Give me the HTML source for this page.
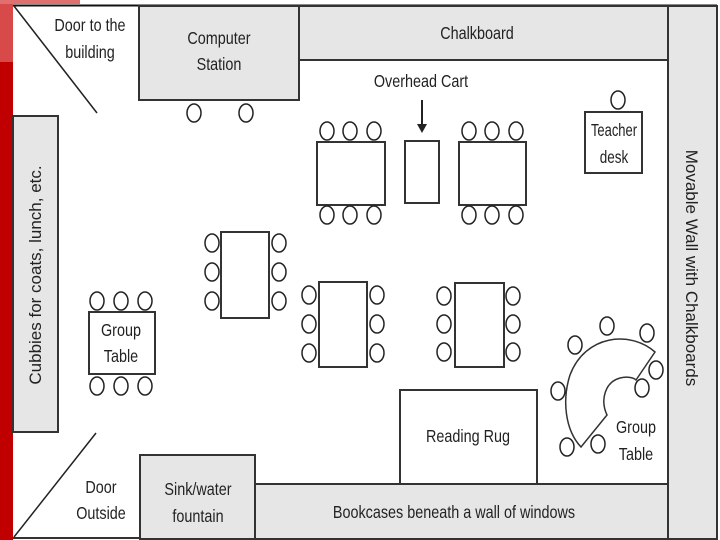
<!DOCTYPE html>
<html><head><meta charset="utf-8"><style>
html,body{margin:0;padding:0;background:#fff;}
svg{display:block;}
text{font-family:"Liberation Sans Narrow","Liberation Sans",sans-serif;fill:#222;}
</style></head><body>
<svg width="720" height="540" viewBox="0 0 720 540" xmlns="http://www.w3.org/2000/svg">
<rect x="0" y="0" width="720" height="540" fill="#fff"/>
<rect x="0" y="0" width="13" height="540" fill="#c00000"/>
<rect x="0" y="0" width="13" height="62" fill="#d84a4a"/>
<rect x="0" y="0" width="80" height="4" fill="#e07070"/>
<line x1="13" y1="5.5" x2="717" y2="5.5" stroke="#111" stroke-width="2"/>
<line x1="13" y1="538" x2="668" y2="538" stroke="#333" stroke-width="2"/>
<g stroke="#333" stroke-width="2" fill="#e6e6e6">
<rect x="139" y="6" width="160" height="94"/>
<rect x="299" y="6" width="369" height="54"/>
<rect x="668" y="6" width="49" height="533"/>
<rect x="13" y="116" width="45" height="316"/>
<rect x="140" y="455" width="115" height="84"/>
<rect x="255" y="484" width="413" height="55"/>
</g>
<g stroke="#222" stroke-width="1.5">
<line x1="14" y1="6" x2="97" y2="113"/>
<line x1="14" y1="537" x2="96" y2="433"/>
</g>
<g stroke="#333" stroke-width="2" fill="#fff">
<rect x="317" y="142" width="68" height="63"/>
<rect x="405" y="141" width="34" height="62"/>
<rect x="459" y="142" width="67" height="63"/>
<rect x="221" y="232" width="48" height="86"/>
<rect x="319" y="282" width="48" height="85"/>
<rect x="455" y="283" width="49" height="84"/>
<rect x="89" y="312" width="66" height="62"/>
<rect x="585" y="112" width="57" height="61"/>
<rect x="400" y="390" width="137" height="94"/>
<path d="M655,352 C630,330 585,335 570,375 C562,400 565,430 581,447 L607,415 C600,400 605,382 620,378 C628,376 634,378 636,380 Z" stroke-width="1.5"/>
</g>
<g stroke="#222" stroke-width="1.5" fill="#fff">
<ellipse cx="194" cy="113" rx="7" ry="9"/><ellipse cx="246" cy="113" rx="7" ry="9"/>
<ellipse cx="327" cy="131" rx="7" ry="9"/><ellipse cx="350" cy="131" rx="7" ry="9"/><ellipse cx="374" cy="131" rx="7" ry="9"/>
<ellipse cx="327" cy="215" rx="7" ry="9"/><ellipse cx="350" cy="215" rx="7" ry="9"/><ellipse cx="374" cy="215" rx="7" ry="9"/>
<ellipse cx="469" cy="131" rx="7" ry="9"/><ellipse cx="492" cy="131" rx="7" ry="9"/><ellipse cx="516" cy="131" rx="7" ry="9"/>
<ellipse cx="469" cy="215" rx="7" ry="9"/><ellipse cx="492" cy="215" rx="7" ry="9"/><ellipse cx="516" cy="215" rx="7" ry="9"/>
<ellipse cx="212" cy="243" rx="7" ry="9"/><ellipse cx="212" cy="272" rx="7" ry="9"/><ellipse cx="212" cy="301" rx="7" ry="9"/>
<ellipse cx="279" cy="243" rx="7" ry="9"/><ellipse cx="279" cy="272" rx="7" ry="9"/><ellipse cx="279" cy="301" rx="7" ry="9"/>
<ellipse cx="309" cy="295" rx="7" ry="9"/><ellipse cx="309" cy="324" rx="7" ry="9"/><ellipse cx="309" cy="353" rx="7" ry="9"/>
<ellipse cx="377" cy="295" rx="7" ry="9"/><ellipse cx="377" cy="324" rx="7" ry="9"/><ellipse cx="377" cy="353" rx="7" ry="9"/>
<ellipse cx="444" cy="296" rx="7" ry="9"/><ellipse cx="444" cy="324" rx="7" ry="9"/><ellipse cx="444" cy="352" rx="7" ry="9"/>
<ellipse cx="513" cy="296" rx="7" ry="9"/><ellipse cx="513" cy="324" rx="7" ry="9"/><ellipse cx="513" cy="352" rx="7" ry="9"/>
<ellipse cx="97" cy="301" rx="7" ry="9"/><ellipse cx="121" cy="301" rx="7" ry="9"/><ellipse cx="145" cy="301" rx="7" ry="9"/>
<ellipse cx="97" cy="386" rx="7" ry="9"/><ellipse cx="121" cy="386" rx="7" ry="9"/><ellipse cx="145" cy="386" rx="7" ry="9"/>
<ellipse cx="618" cy="100" rx="7" ry="9"/>
<ellipse cx="607" cy="326" rx="7" ry="9"/><ellipse cx="647" cy="333" rx="7" ry="9"/><ellipse cx="656" cy="370" rx="7" ry="9"/>
<ellipse cx="642" cy="388" rx="7" ry="9"/><ellipse cx="575" cy="345" rx="7" ry="9"/><ellipse cx="558" cy="391" rx="7" ry="9"/>
<ellipse cx="567" cy="447" rx="7" ry="9"/><ellipse cx="598" cy="444" rx="7" ry="9"/>
</g>
<line x1="422" y1="100" x2="422" y2="126" stroke="#222" stroke-width="2"/>
<polygon points="417,124 427,124 422,133" fill="#222"/>
<g font-size="18" text-anchor="middle">
<text x="90" y="31" transform="translate(90 0) scale(0.8 1) translate(-90 0)">Door to the</text>
<text x="90" y="58" transform="translate(90 0) scale(0.8 1) translate(-90 0)">building</text>
<text x="219" y="44" transform="translate(219 0) scale(0.8 1) translate(-219 0)">Computer</text>
<text x="219" y="70" transform="translate(219 0) scale(0.8 1) translate(-219 0)">Station</text>
<text x="477" y="39" transform="translate(477 0) scale(0.8 1) translate(-477 0)">Chalkboard</text>
<text x="421" y="87" transform="translate(421 0) scale(0.8 1) translate(-421 0)">Overhead Cart</text>
<text x="614" y="136" transform="translate(614 0) scale(0.72 1) translate(-614 0)">Teacher</text>
<text x="614" y="163" transform="translate(614 0) scale(0.75 1) translate(-614 0)">desk</text>
<text x="121" y="336" transform="translate(121 0) scale(0.8 1) translate(-121 0)">Group</text>
<text x="121" y="362" transform="translate(121 0) scale(0.8 1) translate(-121 0)">Table</text>
<text x="468" y="442" transform="translate(468 0) scale(0.8 1) translate(-468 0)">Reading Rug</text>
<text x="636" y="433" transform="translate(636 0) scale(0.8 1) translate(-636 0)">Group</text>
<text x="636" y="460" transform="translate(636 0) scale(0.8 1) translate(-636 0)">Table</text>
<text x="101" y="493" transform="translate(101 0) scale(0.8 1) translate(-101 0)">Door</text>
<text x="101" y="519" transform="translate(101 0) scale(0.8 1) translate(-101 0)">Outside</text>
<text x="198" y="495" transform="translate(198 0) scale(0.8 1) translate(-198 0)">Sink/water</text>
<text x="198" y="522" transform="translate(198 0) scale(0.8 1) translate(-198 0)">fountain</text>
<text x="454" y="518" transform="translate(454 0) scale(0.8 1) translate(-454 0)">Bookcases beneath a wall of windows</text>
</g>
<text x="0" y="0" font-size="17" text-anchor="middle" transform="translate(41 275) rotate(-90)" style="font-family:'Liberation Sans',sans-serif">Cubbies for coats, lunch, etc.</text>
<text x="0" y="0" font-size="17" text-anchor="middle" transform="translate(686 268) rotate(90)" style="font-family:'Liberation Sans',sans-serif">Movable Wall with Chalkboards</text>
</svg>
</body></html>
